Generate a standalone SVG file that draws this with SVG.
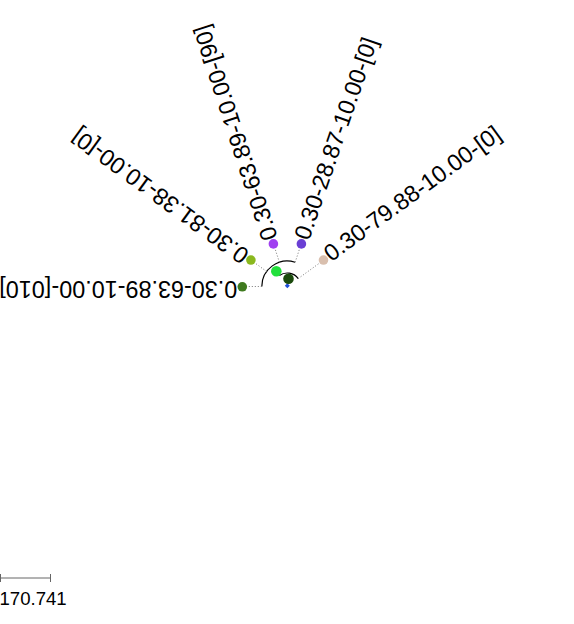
<svg xmlns="http://www.w3.org/2000/svg" width="574" height="624" viewBox="0 0 574 624">
<style>
.lbl{font-family:"Liberation Sans",Arial,sans-serif;font-size:23.4px;fill:#000}
.dot{stroke:#777;stroke-width:1;stroke-dasharray:1,2;fill:none}
.arc{stroke:#000;stroke-width:1.2;fill:none}
.scale{font-family:"Liberation Sans",Arial,sans-serif;font-size:18.6px;fill:#000}
</style>
<rect width="574" height="624" fill="#fff"/>
<g id="connectors">
<path class="arc" d="M261.8 286.5 A25.5 25.5 0 0 1 295.18 262.25"/>
<path class="arc" d="M279.36 275.58 A13.5 13.5 0 0 1 298.22 278.56"/>
<line class="dot" x1="261.8" y1="286.5" x2="247" y2="286.5"/>
<line class="dot" x1="266.67" y1="271.51" x2="254.7" y2="262.8"/>
<line class="dot" x1="279.42" y1="262.25" x2="274.85" y2="248.2"/>
<line class="dot" x1="295.18" y1="262.25" x2="299.75" y2="248.2"/>
<line class="dot" x1="298.22" y1="278.56" x2="319.9" y2="262.8"/>
</g>
<g id="root"><polygon points="287.3,283.3 289.8,285.8 287.3,288.3 284.8,285.8" fill="#1f4fd8"/></g>
<g id="n_inner1"><circle cx="288.5" cy="278.8" r="5.3" fill="#1a4a0c"/></g>
<g id="n_inner2"><circle cx="276.3" cy="271.2" r="5.3" fill="#22e03c"/></g>
<g id="leaf1"><circle cx="242.3" cy="286.8" r="4.8" fill="#3f7a1f"/>
<text class="lbl" transform="translate(242.3,286.8) rotate(180)" x="5" y="6.2">0.30-63.89-10.00-[010]</text></g>
<g id="leaf2"><circle cx="250.9" cy="260.05" r="4.8" fill="#8ab81e"/>
<text class="lbl" transform="translate(250.9,260.05) rotate(216)" x="5" y="6.2">0.30-81.38-10.00-[0]</text></g>
<g id="leaf3"><circle cx="273.4" cy="243.9" r="4.8" fill="#a040f0"/>
<text class="lbl" transform="translate(273.4,243.9) rotate(252)" x="5" y="6.2">0.30-63.89-10.00-[90]</text></g>
<g id="leaf4"><circle cx="301.4" cy="243.9" r="4.8" fill="#6a3fd4"/>
<text class="lbl" transform="translate(301.4,243.9) rotate(289)" x="5" y="6.2">0.30-28.87-10.00-[0]</text></g>
<g id="leaf5"><circle cx="323.5" cy="260.05" r="4.8" fill="#d9bfae"/>
<text class="lbl" transform="translate(323.5,260.05) rotate(324)" x="5" y="6.2">0.30-79.88-10.00-[0]</text></g>
<g id="scalebar">
<line x1="0.5" y1="578" x2="50.5" y2="578" stroke="#666" stroke-width="1"/>
<line x1="0.5" y1="574" x2="0.5" y2="582" stroke="#666" stroke-width="1"/>
<line x1="50.5" y1="574" x2="50.5" y2="582" stroke="#666" stroke-width="1"/>
<text class="scale" x="-0.5" y="605">170.741</text>
</g>
</svg>
